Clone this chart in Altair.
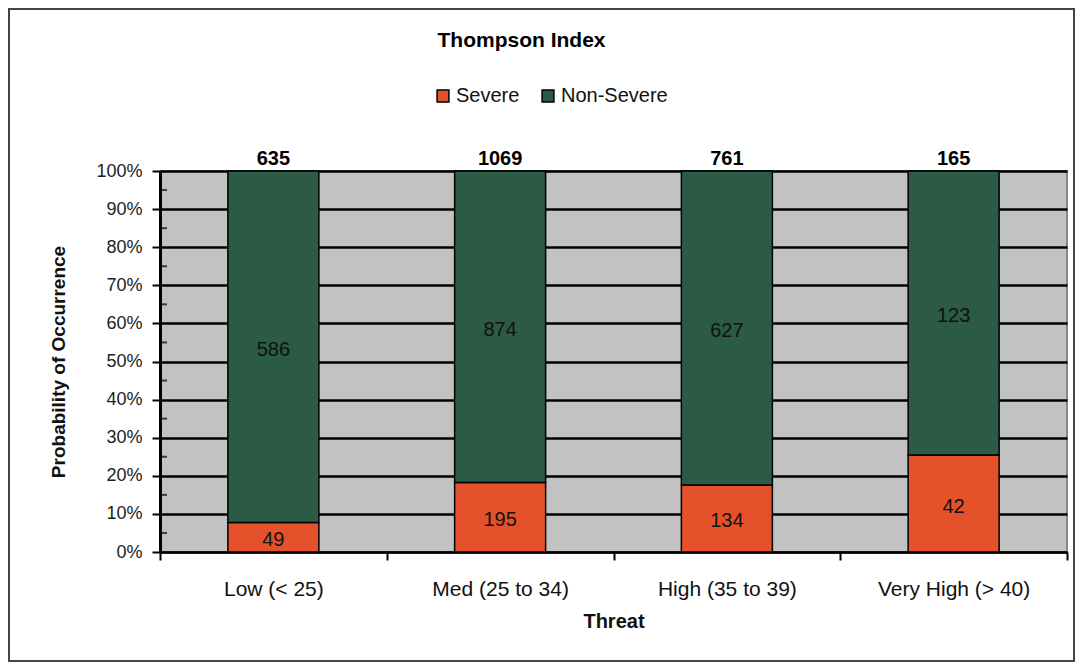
import altair as alt
import pandas as pd

categories = ["Low (< 25)", "Med (25 to 34)", "High (35 to 39)", "Very High (> 40)"]
severe = [49, 195, 134, 42]
non_severe = [586, 874, 627, 123]
totals = [635, 1069, 761, 165]
series = ["Severe", "Non-Severe"]
colors = ["#e5512a", "#2b5a45"]
y_ticks = [0, 0.1, 0.2, 0.3, 0.4, 0.5, 0.6, 0.7, 0.8, 0.9, 1.0]
y_minor = [0.05, 0.15, 0.25, 0.35, 0.45, 0.55, 0.65, 0.75, 0.85, 0.95]

rows = []
for c, s, n in zip(categories, severe, non_severe):
    rows.append({"threat": c, "series": "Severe", "count": s, "ord": 0})
    rows.append({"threat": c, "series": "Non-Severe", "count": n, "ord": 1})
df = pd.DataFrame(rows)
tot_df = pd.DataFrame({"threat": categories, "total": totals, "top": [1.0] * len(categories)})
minor_df = pd.DataFrame({"v": y_minor})

FONT = "Liberation Sans"
W, H = 907, 381

x_axis = alt.Axis(labelAngle=0, labelFontSize=21, labelColor="#111", labelPadding=18,
                  titleFontSize=20, titleFontWeight="bold", titleColor="#111", titlePadding=12,
                  tickBand="extent", tickSize=8, tickWidth=2, tickColor="#000",
                  domainColor="#000", domainWidth=2, labelFont=FONT, titleFont=FONT)
x_scale = alt.Scale(paddingInner=0, paddingOuter=0)
y_axis = alt.Axis(format=".0%", values=y_ticks, labelOverlap=False,
                  labelFontSize=18, labelColor="#222", labelPadding=10, labelFont=FONT,
                  titleFontSize=19, titleFont=FONT, titleColor="#111", titleFontWeight="bold",
                  titleX=-92,
                  grid=True, gridColor="#000", gridWidth=2.5,
                  tickSize=8, tickWidth=2, tickColor="#000",
                  domainColor="#000", domainWidth=3)
y_scale = alt.Scale(domain=[0, 1])


def xe():
    return alt.X("threat:N", sort=categories, title="Threat", scale=x_scale, axis=x_axis)


def ye(field):
    return alt.Y(field, scale=y_scale, title="Probability of Occurrence", axis=y_axis)


base = alt.Chart(df).transform_stack(
    stack="count", groupby=["threat"], as_=["y0", "y1"], offset="normalize",
    sort=[alt.SortField("ord", order="ascending")]
).transform_calculate(mid="(datum.y0 + datum.y1) / 2")

bars = base.mark_bar(size=91, stroke="#000", strokeWidth=1.5).encode(
    x=xe(),
    y=ye("y0:Q"),
    y2="y1:Q",
    color=alt.Color("series:N", scale=alt.Scale(domain=series, range=colors),
                    sort=series,
                    legend=alt.Legend(title=None, orient="none", legendX=273, legendY=-85,
                                      direction="horizontal", symbolType="square", symbolSize=140,
                                      symbolStrokeColor="#000", symbolStrokeWidth=1.5,
                                      labelFontSize=20, labelFont=FONT, labelColor="#111",
                                      columnPadding=18, labelOffset=3)),
)

seg_text = base.mark_text(fontSize=20, font=FONT, color="#111", dy=3).encode(
    x=xe(),
    y=ye("mid:Q"),
    text=alt.Text("count:Q"),
)

top_text = alt.Chart(tot_df).mark_text(fontSize=20, font=FONT, fontWeight="bold", color="#000",
                                       baseline="bottom", dy=-2).encode(
    x=xe(),
    y=ye("top:Q"),
    text=alt.Text("total:Q"),
)

minor_ticks = alt.Chart(minor_df).mark_tick(orient="horizontal", color="#000", thickness=2,
                                             size=6).encode(
    x=alt.value(4),
    y=ye("v:Q"),
)

border = alt.Chart(tot_df).mark_rect(fill=None, stroke="#444", strokeWidth=2).encode(
    x=alt.value(-151), x2=alt.value(W + 7), y=alt.value(-162), y2=alt.value(H + 109)
)

chart = alt.layer(bars, seg_text, top_text, minor_ticks, border).properties(
    width=W, height=H,
    title=alt.TitleParams("Thompson Index", fontSize=21, font=FONT, fontWeight="bold",
                          color="#000", anchor="middle", dx=-92, offset=0, dy=43),
    padding={"left": 152, "top": 163, "right": 9, "bottom": 111},
    autosize="none",
    background="white",
).configure_view(fill="#c2c2c2", stroke="#888", strokeWidth=2)

chart.save("out.html", embed_options={"renderer": "svg", "actions": False})
